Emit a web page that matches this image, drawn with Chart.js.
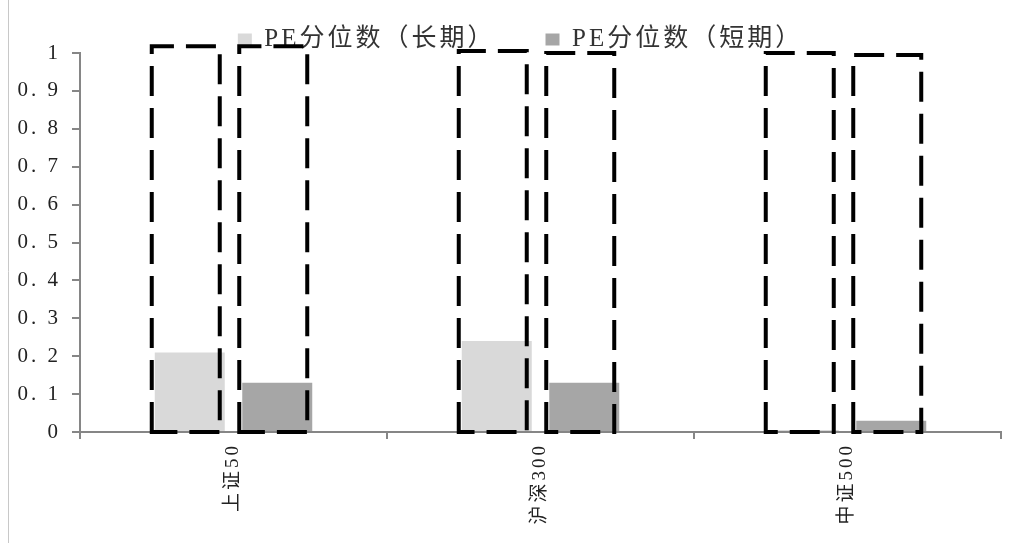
<!DOCTYPE html>
<html><head><meta charset="utf-8">
<script src="https://cdn.jsdelivr.net/npm/chart.js@4.4.0/dist/chart.umd.min.js"></script>
<style>html,body{margin:0;padding:0;background:#fff;}#wrap{width:1011px;height:543px;}</style>
</head><body><div id="wrap"><canvas id="c" width="1011" height="543"></canvas></div>
<script>
const categories = ['上证50', '沪深300', '中证500'];
const longTerm = [0.21, 0.24, 0.005];
const shortTerm = [0.13, 0.13, 0.03];
const seriesNames = ['PE分位数（长期）', 'PE分位数（短期）'];
const yTickLabels = ['0', '0. 1', '0. 2', '0. 3', '0. 4', '0. 5', '0. 6', '0. 7', '0. 8', '0. 9', '1'];
const boxTopLong = [1.018, 1.005, 1.0];
const boxTopShort = [1.018, 1.0, 0.995];

const FONT = '"Liberation Serif", "Noto Sans CJK SC", serif';

const spacing = {
  id: 'spacing',
  beforeUpdate(chart) { chart.ctx.letterSpacing = '3px'; },
  afterUpdate(chart) {
    if (chart.legend) { chart.legend.left += 20; chart.legend.right += 20; }
  },
  beforeDraw(chart) {
    const ctx = chart.ctx;
    ctx.letterSpacing = '3px';
    ctx.save();
    ctx.strokeStyle = '#c8c8c8';
    ctx.lineWidth = 1;
    ctx.beginPath(); ctx.moveTo(8.5, 0); ctx.lineTo(8.5, 543); ctx.stroke();
    ctx.restore();
  }
};

const dashedBoxes = {
  id: 'dashedBoxes',
  afterDatasetsDraw(chart) {
    const ctx = chart.ctx;
    const y = chart.scales.y;
    const tops = [boxTopLong, boxTopShort];
    ctx.save();
    ctx.strokeStyle = '#000';
    ctx.lineWidth = 4;
    ctx.setLineDash([30, 12]);
    [0, 1].forEach(di => {
      const meta = chart.getDatasetMeta(di);
      meta.data.forEach((bar, i) => {
        const w = bar.width;
        const left = bar.x - w / 2 - 3;
        const right = bar.x + w / 2 - 5;
        const top = y.getPixelForValue(tops[di][i]);
        const bottom = y.getPixelForValue(0);
        ctx.beginPath();
        ctx.moveTo(left, bottom);
        ctx.lineTo(left, top);
        ctx.lineTo(right, top);
        ctx.lineTo(right, bottom);
        ctx.closePath();
        ctx.stroke();
      });
    });
    ctx.restore();
  }
};

new Chart(document.getElementById('c'), {
  type: 'bar',
  data: {
    labels: categories,
    datasets: [
      { label: seriesNames[0], data: longTerm, backgroundColor: '#d9d9d9', categoryPercentage: 0.57, barPercentage: 0.8 },
      { label: seriesNames[1], data: shortTerm, backgroundColor: '#a6a6a6', categoryPercentage: 0.57, barPercentage: 0.8 }
    ]
  },
  options: {
    responsive: false,
    animation: false,
    devicePixelRatio: 1,
    layout: { padding: { top: -23, right: 10, left: 0, bottom: 0 } },
    plugins: {
      legend: {
        position: 'top',
        maxHeight: 76,
        labels: { font: { family: FONT, size: 25 }, color: '#333', boxWidth: 14, boxHeight: 12, padding: 50 }
      },
      tooltip: { enabled: false }
    },
    scales: {
      x: {
        grid: { offset: true, drawOnChartArea: false, color: '#868686', tickLength: 7, lineWidth: 2 },
        border: { color: '#868686', width: 2 },
        ticks: { font: { family: FONT, size: 19 }, color: '#222', minRotation: 90, maxRotation: 90, padding: 4 },
        afterFit(s) { s.height = 111; }
      },
      y: {
        min: 0, max: 1,
        afterBuildTicks(s) { s.ticks = yTickLabels.map((t, i) => ({ value: i / 10 })); },
        grid: { drawOnChartArea: false, color: '#868686', tickLength: 8, lineWidth: 2 },
        border: { color: '#868686', width: 2 },
        ticks: { font: { family: FONT, size: 21 }, color: '#222', padding: 11,
          callback(v, i) { return yTickLabels[i]; } },
        afterFit(s) { s.width = 80; }
      }
    }
  },
  plugins: [spacing, dashedBoxes]
});
</script></body></html>
